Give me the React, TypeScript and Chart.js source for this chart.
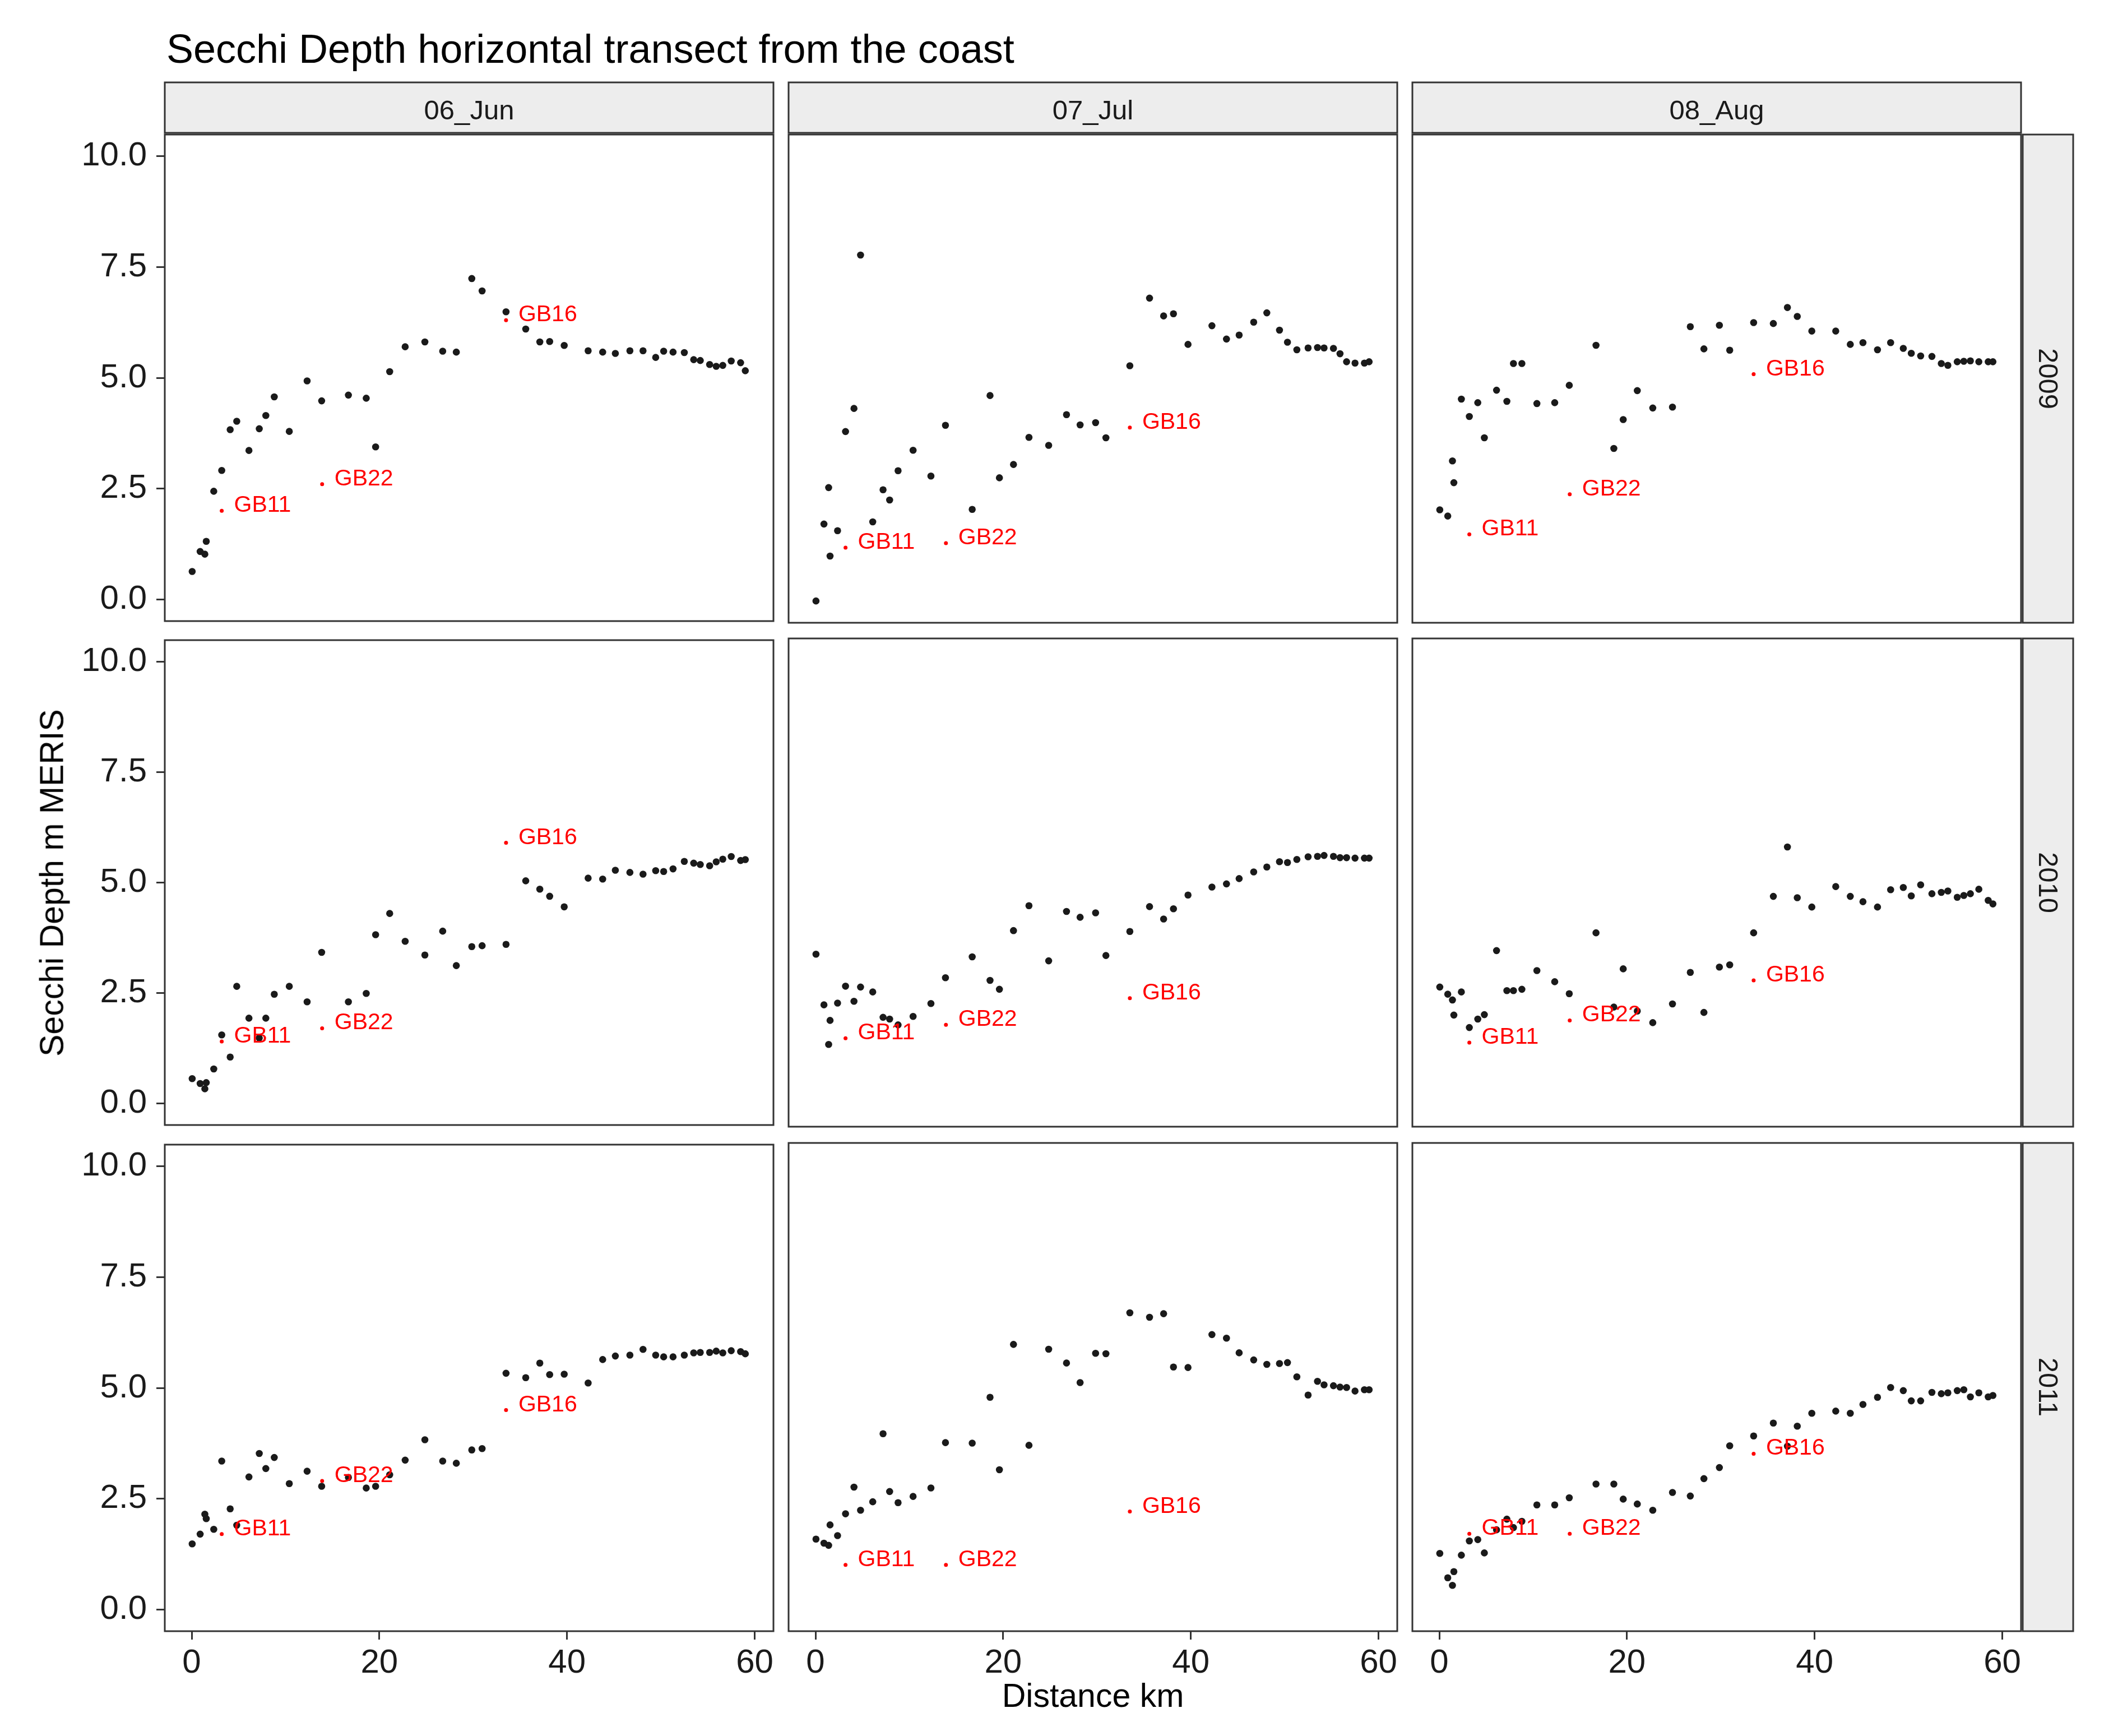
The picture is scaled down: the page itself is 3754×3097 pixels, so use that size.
import React, { useEffect, useRef } from "react";
import { Chart, registerables } from "chart.js";

Chart.register(...registerables);

// ---------------- data ----------------
const DISTANCE_KM = [
  0.05, 0.9, 1.4, 1.55, 2.35, 3.2, 4.1, 4.8, 6.1, 7.2, 7.9, 8.8, 10.4, 12.3, 13.85, 16.7,
  18.6, 19.6, 21.1, 22.75, 24.85, 26.75, 28.2, 29.85, 30.95, 33.5, 35.6, 37.1, 38.15, 39.7,
  42.25, 43.8, 45.15, 46.7, 48.1, 49.45, 50.3, 51.3, 52.5, 53.5, 54.2, 55.2, 55.9, 56.6,
  57.5, 58.5, 59.0,
];

const MONTHS = ["06_Jun", "07_Jul", "08_Aug"];
const YEARS = ["2009", "2010", "2011"];

const SECCHI_JUN_2009 = [0.63, 1.08, 1.02, 1.31, 2.44, 2.91, 3.83, 4.02, 3.36, 3.85, 4.15, 4.57, 3.79, 4.93, 4.48, 4.61, 4.54, 3.44, 5.14, 5.70, 5.81, 5.60, 5.58, 7.24, 6.96, 6.49, 6.10, 5.81, 5.82, 5.73, 5.61, 5.58, 5.55, 5.61, 5.61, 5.46, 5.60, 5.58, 5.57, 5.41, 5.39, 5.30, 5.26, 5.28, 5.38, 5.34, 5.16];
const SECCHI_JUL_2009 = [0.0, 1.73, 2.55, 1.01, 1.58, 3.81, 4.33, 7.78, 1.78, 2.50, 2.27, 2.93, 3.39, 2.81, 3.95, 2.06, 4.62, 2.77, 3.07, 3.68, 3.50, 4.19, 3.96, 4.01, 3.67, 5.29, 6.81, 6.41, 6.46, 5.77, 6.19, 5.89, 5.98, 6.27, 6.48, 6.09, 5.82, 5.65, 5.69, 5.70, 5.69, 5.68, 5.56, 5.38, 5.35, 5.35, 5.38];
const SECCHI_AUG_2009 = [2.05, 1.91, 3.15, 2.66, 4.54, 4.15, 4.46, 3.67, 4.74, 4.49, 5.34, 5.34, 4.44, 4.46, 4.85, 5.75, 3.43, 4.08, 4.73, 4.34, 4.36, 6.17, 5.67, 6.20, 5.64, 6.26, 6.24, 6.60, 6.40, 6.07, 6.07, 5.77, 5.81, 5.65, 5.81, 5.68, 5.57, 5.51, 5.50, 5.34, 5.30, 5.38, 5.39, 5.40, 5.38, 5.38, 5.38];
const SECCHI_JUN_2010 = [0.56, 0.45, 0.33, 0.47, 0.78, 1.55, 1.05, 2.65, 1.93, 1.48, 1.93, 2.47, 2.65, 2.30, 3.42, 2.30, 2.49, 3.82, 4.30, 3.67, 3.36, 3.90, 3.12, 3.55, 3.57, 3.60, 5.04, 4.85, 4.69, 4.45, 5.10, 5.08, 5.28, 5.23, 5.19, 5.27, 5.25, 5.31, 5.48, 5.44, 5.41, 5.38, 5.47, 5.53, 5.59, 5.50, 5.52];
const SECCHI_JUL_2010 = [3.39, 2.25, 1.36, 1.90, 2.29, 2.67, 2.33, 2.65, 2.54, 1.97, 1.93, 1.80, 1.99, 2.28, 2.86, 3.33, 2.80, 2.60, 3.92, 4.48, 3.24, 4.35, 4.22, 4.32, 3.36, 3.90, 4.46, 4.18, 4.41, 4.72, 4.90, 4.97, 5.09, 5.24, 5.35, 5.47, 5.45, 5.52, 5.58, 5.59, 5.61, 5.59, 5.56, 5.56, 5.55, 5.55, 5.55];
const SECCHI_AUG_2010 = [2.65, 2.49, 2.36, 2.02, 2.54, 1.74, 1.93, 2.03, 3.47, 2.57, 2.57, 2.60, 3.02, 2.77, 2.50, 3.87, 2.20, 3.06, 2.11, 1.85, 2.27, 2.98, 2.08, 3.10, 3.15, 3.87, 4.69, 5.80, 4.66, 4.45, 4.91, 4.69, 4.57, 4.45, 4.84, 4.89, 4.70, 4.95, 4.75, 4.78, 4.81, 4.67, 4.71, 4.75, 4.85, 4.60, 4.52];
const SECCHI_JUN_2011 = [1.48, 1.70, 2.15, 2.05, 1.81, 3.35, 2.27, 1.90, 2.99, 3.52, 3.18, 3.43, 2.84, 3.12, 2.78, 2.98, 2.74, 2.78, 3.04, 3.37, 3.83, 3.35, 3.30, 3.60, 3.63, 5.33, 5.23, 5.56, 5.30, 5.31, 5.11, 5.64, 5.72, 5.74, 5.87, 5.74, 5.70, 5.70, 5.74, 5.79, 5.80, 5.80, 5.83, 5.79, 5.84, 5.82, 5.77];
const SECCHI_JUL_2011 = [1.58, 1.49, 1.44, 1.90, 1.66, 2.15, 2.75, 2.23, 2.42, 3.95, 2.65, 2.40, 2.54, 2.73, 3.75, 3.74, 4.77, 3.14, 5.96, 3.69, 5.85, 5.54, 5.10, 5.76, 5.75, 6.67, 6.57, 6.65, 5.45, 5.44, 6.18, 6.10, 5.77, 5.61, 5.51, 5.53, 5.55, 5.23, 4.82, 5.13, 5.05, 5.03, 5.00, 4.99, 4.91, 4.94, 4.94];
const SECCHI_AUG_2011 = [1.26, 0.71, 0.54, 0.85, 1.22, 1.54, 1.57, 1.27, 1.79, 2.03, 1.84, 1.98, 2.35, 2.35, 2.51, 2.82, 2.82, 2.48, 2.37, 2.23, 2.63, 2.55, 2.94, 3.19, 3.68, 3.90, 4.19, 3.67, 4.12, 4.41, 4.46, 4.41, 4.61, 4.77, 4.99, 4.92, 4.69, 4.69, 4.88, 4.85, 4.87, 4.92, 4.94, 4.78, 4.87, 4.78, 4.81];

const STATION_NAMES = ["GB11", "GB22", "GB16"];
const STATION_KM = [3.2, 13.9, 33.5];
const STATION_JUN_2009 = [2.0, 2.6, 6.3];
const STATION_JUL_2009 = [1.2, 1.3, 3.9];
const STATION_AUG_2009 = [1.5, 2.4, 5.1];
const STATION_JUN_2010 = [1.4, 1.7, 5.9];
const STATION_JUL_2010 = [1.5, 1.8, 2.4];
const STATION_AUG_2010 = [1.4, 1.9, 2.8];
const STATION_JUN_2011 = [1.7, 2.9, 4.5];
const STATION_JUL_2011 = [1.0, 1.0, 2.2];
const STATION_AUG_2011 = [1.7, 1.7, 3.5];

const X_TICKS = [0, 20, 40, 60];
const Y_TICKS = [0, 2.5, 5, 7.5, 10];

const PANEL_SERIES = [
  [SECCHI_JUN_2009, SECCHI_JUL_2009, SECCHI_AUG_2009],
  [SECCHI_JUN_2010, SECCHI_JUL_2010, SECCHI_AUG_2010],
  [SECCHI_JUN_2011, SECCHI_JUL_2011, SECCHI_AUG_2011],
];
const PANEL_STATIONS = [
  [STATION_JUN_2009, STATION_JUL_2009, STATION_AUG_2009],
  [STATION_JUN_2010, STATION_JUL_2010, STATION_AUG_2010],
  [STATION_JUN_2011, STATION_JUL_2011, STATION_AUG_2011],
];

// ---------------- layout ----------------
const PAGE_W = 3754;
const PAGE_H = 3097;
const COL_X = [294, 1407, 2520];
const ROW_Y = [240, 1139, 2039];
const PANEL_W = 1086;
const PANEL_H = 871;
const M = 50;
const STRIP_PAD = 110;
const STRIP_SIZE = 93;
const XAXIS_H = 130;
const X_MIN = -2.87;
const X_MAX = 62.0;
const Y_MIN = -0.49;
const Y_MAX = 10.49;
const FONT = '"Liberation Sans", Arial, Helvetica, sans-serif';
const TEXT_COLOR = "#1a1a1a";
const LINE_COLOR = "#333333";
const STRIP_FILL = "#EDEDED";

const panelPlugin = {
  id: "panelDecor",
  afterDatasetsDraw(chart: any, _args: any, opts: any) {
    const { ctx, chartArea: a } = chart;
    ctx.save();
    const meta = chart.getDatasetMeta(1);
    ctx.fillStyle = "#FF0000";
    ctx.font = `41px ${FONT}`;
    ctx.textAlign = "left";
    ctx.textBaseline = "alphabetic";
    meta.data.forEach((el: any, i: number) => {
      ctx.fillText(STATION_NAMES[i], el.x + 22, el.y + 2);
    });

    ctx.strokeStyle = LINE_COLOR;
    ctx.lineWidth = 3;
    if (opts.topStrip) {
      const y0 = a.top - STRIP_SIZE;
      const h = STRIP_SIZE - 3;
      ctx.fillStyle = STRIP_FILL;
      ctx.fillRect(a.left, y0, a.right - a.left, h);
      ctx.strokeRect(a.left, y0, a.right - a.left, h);
      ctx.fillStyle = TEXT_COLOR;
      ctx.font = `49px ${FONT}`;
      ctx.textAlign = "center";
      ctx.textBaseline = "alphabetic";
      ctx.fillText(opts.topStrip, (a.left + a.right) / 2, a.top - 27);
    }
    if (opts.rightStrip) {
      const x0 = a.right + 3;
      const w = STRIP_SIZE - 3;
      ctx.fillStyle = STRIP_FILL;
      ctx.fillRect(x0, a.top, w, a.bottom - a.top);
      ctx.strokeRect(x0, a.top, w, a.bottom - a.top);
      ctx.save();
      ctx.translate(x0 + w / 2, (a.top + a.bottom) / 2);
      ctx.rotate(Math.PI / 2);
      ctx.fillStyle = TEXT_COLOR;
      ctx.font = `49px ${FONT}`;
      ctx.textAlign = "center";
      ctx.textBaseline = "middle";
      ctx.fillText(opts.rightStrip, 0, 2);
      ctx.restore();
    }
    ctx.strokeRect(a.left, a.top, a.right - a.left, a.bottom - a.top);
    ctx.restore();
  },
};

function Panel({ row, col }: { row: number; col: number }) {
  const ref = useRef<HTMLCanvasElement>(null);
  const showX = row === 2;
  const showY = col === 0;
  const padTop = row === 0 ? STRIP_PAD : M;
  const padRight = col === 2 ? STRIP_PAD : M;
  const padLeft = showY ? 0 : M;
  const left = showY ? 0 : COL_X[col] - M;
  const top = ROW_Y[row] - padTop;
  const width = (showY ? COL_X[0] : M) + PANEL_W + padRight;
  const height = padTop + PANEL_H + (showX ? XAXIS_H : M);

  useEffect(() => {
    const values = PANEL_SERIES[row][col];
    const stations = PANEL_STATIONS[row][col];
    const tickFont = { family: FONT, size: 60 };
    const chart = new Chart(ref.current as HTMLCanvasElement, {
      type: "scatter",
      data: {
        datasets: [
          {
            data: DISTANCE_KM.map((x, i) => ({ x, y: values[i] })),
            backgroundColor: "#1a1a1a",
            borderColor: "#1a1a1a",
            borderWidth: 0,
            pointRadius: 6.3,
            pointHoverRadius: 6.3,
          },
          {
            data: STATION_KM.map((x, i) => ({ x, y: stations[i] })),
            backgroundColor: "#FF0000",
            borderWidth: 0,
            pointRadius: 3.5,
            pointHoverRadius: 3.5,
          },
        ],
      },
      options: {
        animation: false,
        responsive: false,
        devicePixelRatio: 1,
        events: [],
        layout: {
          padding: { left: padLeft, top: padTop, right: padRight, bottom: showX ? 0 : M },
        },
        plugins: {
          legend: { display: false },
          tooltip: { enabled: false },
          panelDecor: {
            topStrip: row === 0 ? MONTHS[col] : null,
            rightStrip: col === 2 ? YEARS[row] : null,
          },
        },
        scales: {
          x: {
            type: "linear",
            min: X_MIN,
            max: X_MAX,
            display: showX,
            afterBuildTicks: (s: any) => {
              s.ticks = X_TICKS.map((v) => ({ value: v }));
            },
            afterFit: (s: any) => {
              s.height = showX ? XAXIS_H : 0;
            },
            grid: {
              drawOnChartArea: false,
              drawTicks: true,
              tickLength: 15,
              color: LINE_COLOR,
              lineWidth: 3,
            },
            border: { display: false },
            ticks: {
              font: tickFont,
              color: TEXT_COLOR,
              padding: 6,
              maxRotation: 0,
              autoSkip: false,
              callback: (v: any) => String(v),
            },
          },
          y: {
            type: "linear",
            min: Y_MIN,
            max: Y_MAX,
            display: showY,
            afterBuildTicks: (s: any) => {
              s.ticks = Y_TICKS.map((v) => ({ value: v }));
            },
            afterFit: (s: any) => {
              s.width = showY ? COL_X[0] : 0;
            },
            grid: {
              drawOnChartArea: false,
              drawTicks: true,
              tickLength: 15,
              color: LINE_COLOR,
              lineWidth: 3,
            },
            border: { display: false },
            ticks: {
              font: tickFont,
              color: TEXT_COLOR,
              padding: 17,
              autoSkip: false,
              callback: (v: any) => Number(v).toFixed(1),
            },
          },
        },
      },
      plugins: [panelPlugin],
    } as any);
    return () => chart.destroy();
  }, [row, col]);

  return (
    <canvas
      ref={ref}
      width={width}
      height={height}
      style={{ position: "absolute", left, top, width, height }}
    />
  );
}

export default function App() {
  const panels: React.ReactNode[] = [];
  for (let r = 0; r < 3; r++) {
    for (let c = 0; c < 3; c++) {
      panels.push(<Panel key={`${r}-${c}`} row={r} col={c} />);
    }
  }
  return (
    <div
      style={{
        position: "absolute",
        left: 0,
        top: 0,
        width: PAGE_W,
        height: PAGE_H,
        background: "#ffffff",
        overflow: "hidden",
        fontFamily: FONT,
      }}
    >
      <div
        style={{
          position: "absolute",
          left: 297,
          top: 51,
          fontSize: 72,
          lineHeight: "72px",
          color: "#000",
          whiteSpace: "nowrap",
        }}
      >
        Secchi Depth horizontal transect from the coast
      </div>

      {panels}

      <div
        style={{
          position: "absolute",
          left: 92.6,
          top: 1575,
          fontSize: 59,
          lineHeight: "59px",
          color: "#000",
          whiteSpace: "nowrap",
          transform: "translate(-50%, -50%) rotate(-90deg)",
        }}
      >
        Secchi Depth m MERIS
      </div>

      <div
        style={{
          position: "absolute",
          left: 1950,
          top: 2996,
          fontSize: 59,
          lineHeight: "59px",
          color: "#000",
          whiteSpace: "nowrap",
          transform: "translateX(-50%)",
        }}
      >
        Distance km
      </div>
    </div>
  );
}
